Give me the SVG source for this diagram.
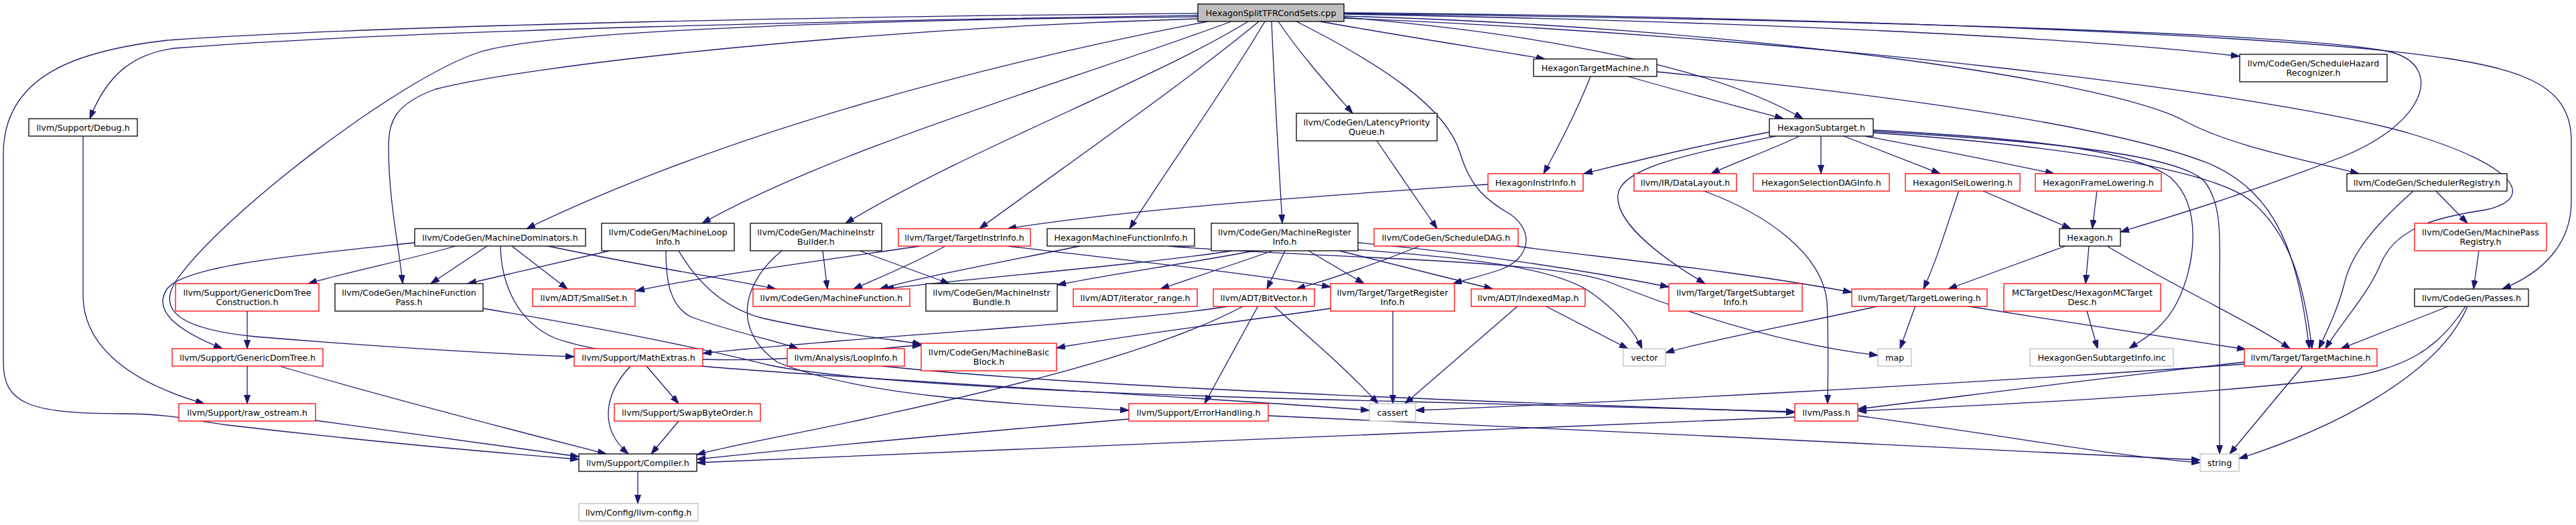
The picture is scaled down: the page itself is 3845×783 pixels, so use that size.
<svg xmlns="http://www.w3.org/2000/svg" width="3845" height="783" viewBox="0 0 3845 783">
<style>
.e{fill:none;stroke:#191970;stroke-width:1.3;marker-end:url(#a)}
.nb rect{fill:#fff;stroke:#000;stroke-width:1.3}
.nr rect{fill:#fff;stroke:#ff0000;stroke-width:1.3}
.ng rect{fill:#fff;stroke:#bfbfbf;stroke-width:1.3}
.nroot rect{fill:#bfbfbf;stroke:#000;stroke-width:1.3}
text{font-family:"DejaVu Sans",sans-serif;font-size:12.7px;text-anchor:middle;fill:#000}
</style>
<defs>
<marker id="a" markerUnits="userSpaceOnUse" markerWidth="14" markerHeight="10" refX="13" refY="4.5" orient="auto" viewBox="0 0 14 10"><path d="M0,0 L13,4.5 L0,9 z" fill="#191970" stroke="#191970" stroke-width="1"/></marker>
</defs>
<rect width="3845" height="783" fill="#fff"/>
<g id="connectors">
<path class="e" d="M1788,23 C1300,30 600,45 260,72 C200,80 160,110 134,177"/>
<path class="e" d="M1788,20 C1300,24 600,36 250,60 C120,75 5,110 5,230 L5,540 C5,600 40,617 180,617 C260,617 290,628 340,634 C520,655 700,672 864,685"/>
<path class="e" d="M1803,32 C1500,90 1100,190 786,341"/>
<path class="e" d="M1838,32 C1600,120 1250,220 1048,333"/>
<path class="e" d="M1863,32 C1720,120 1450,220 1262,333"/>
<path class="e" d="M1879,32 C1760,130 1600,240 1462,341"/>
<path class="e" d="M1888,32 C1830,130 1750,240 1686,341"/>
<path class="e" d="M1898,32 C1902,130 1908,230 1914,333"/>
<path class="e" d="M1908,32 C1940,80 1985,130 2019,169"/>
<path class="e" d="M1935,32 C2060,95 2160,160 2180,230 C2195,280 2220,300 2255,320 C2290,345 2285,385 2240,402 C2210,412 2185,418 2169,423"/>
<path class="e" d="M1970,32 C2100,55 2230,75 2306,88"/>
<path class="e" d="M2006,26 C2300,50 2560,100 2691,177"/>
<path class="e" d="M2006,21 C2600,32 3100,55 3343,84"/>
<path class="e" d="M2006,24 C2600,40 3150,120 3260,180 C3330,218 3440,238 3521,259"/>
<path class="e" d="M2006,20 C2800,30 3450,50 3570,78 C3650,100 3620,190 3480,240 C3350,290 3250,320 3165,346"/>
<path class="e" d="M2006,19 C2800,26 3450,55 3652,87 C3770,105 3838,130 3838,210 L3838,300 C3838,360 3800,405 3735,431"/>
<path class="e" d="M2006,27 C2700,55 3400,140 3600,200 C3750,245 3790,295 3710,313 C3650,322 3580,335 3555,390 C3535,440 3495,480 3471,520"/>
<path class="e" d="M1788,28 C1300,42 800,95 650,133 C590,155 580,180 580,220 C580,300 596,370 601,423"/>
<path class="e" d="M1788,25 C1200,30 800,50 715,78 C600,115 330,320 262,420 C232,468 280,492 380,502 C600,520 750,528 857,532"/>
<path class="e" d="M2374,114 C2352,170 2325,220 2304,259"/>
<path class="e" d="M2430,114 C2520,140 2600,160 2662,177"/>
<path class="e" d="M2473,107 C2800,140 3150,185 3300,245 C3400,290 3430,380 3447,520"/>
<path class="e" d="M2641,197 C2520,220 2420,245 2364,259"/>
<path class="e" d="M2686,203 C2640,225 2590,242 2554,259"/>
<path class="e" d="M2651,203 C2520,230 2420,250 2415,290 C2410,335 2490,390 2545,423"/>
<path class="e" d="M2718,203 L2718,259"/>
<path class="e" d="M2752,203 L2896,259"/>
<path class="e" d="M2784,203 C2900,225 3000,245 3066,259"/>
<path class="e" d="M2796,194 C3000,205 3180,220 3240,265 C3290,310 3275,400 3250,450 C3230,490 3200,505 3178,520"/>
<path class="e" d="M2796,196 C3050,210 3250,230 3290,270 C3318,305 3313,360 3313,420 L3313,677"/>
<path class="e" d="M2796,198 C3050,215 3300,250 3360,300 C3420,350 3440,430 3451,520"/>
<path class="e" d="M2221,275 C2000,290 1700,310 1504,341"/>
<path class="e" d="M2541,284 C2640,320 2720,380 2727,450 C2730,520 2728,570 2728,602"/>
<path class="e" d="M2958,284 L3091,341"/>
<path class="e" d="M2924,284 C2905,340 2890,390 2871,431"/>
<path class="e" d="M3130,284 L3123,341"/>
<path class="e" d="M3083,367 L2908,431"/>
<path class="e" d="M3118,367 L3113,423"/>
<path class="e" d="M3145,367 C3250,430 3360,480 3418,520"/>
<path class="e" d="M2055,210 L2145,341"/>
<path class="e" d="M2119,367 C2050,395 1990,415 1935,431"/>
<path class="e" d="M2262,367 C2400,385 2600,405 2764,436"/>
<path class="e" d="M619,362 C450,380 280,395 250,430 C225,465 270,495 332,520"/>
<path class="e" d="M680,367 C600,390 520,405 460,423"/>
<path class="e" d="M727,367 L643,423"/>
<path class="e" d="M747,367 C748,420 770,480 830,505 C950,545 1150,540 1250,528 C1300,522 1340,516 1375,515"/>
<path class="e" d="M764,367 L847,431"/>
<path class="e" d="M818,367 C950,395 1080,415 1158,431"/>
<path class="e" d="M910,374 L698,423"/>
<path class="e" d="M994,374 C994,420 1000,455 1030,472 C1090,495 1150,505 1191,520"/>
<path class="e" d="M1013,374 C1040,420 1080,460 1140,475 C1230,495 1320,505 1375,513"/>
<path class="e" d="M1228,374 L1235,431"/>
<path class="e" d="M1283,374 L1417,423"/>
<path class="e" d="M1167,374 C1110,420 1090,490 1160,540 C1280,590 1500,602 1685,612"/>
<path class="e" d="M1373,367 C1250,385 1050,412 949,434"/>
<path class="e" d="M1411,367 C1360,395 1310,415 1274,431"/>
<path class="e" d="M1504,367 C1650,385 1850,405 1986,428"/>
<path class="e" d="M1612,367 C1500,390 1380,412 1313,431"/>
<path class="e" d="M1744,367 C1950,385 2300,385 2400,420 C2500,460 2650,512 2803,530"/>
<path class="e" d="M1840,374 C1700,395 1450,415 1321,431"/>
<path class="e" d="M1873,374 C1760,395 1650,410 1578,425"/>
<path class="e" d="M1900,374 L1732,431"/>
<path class="e" d="M1918,374 L1891,431"/>
<path class="e" d="M1953,374 L2036,423"/>
<path class="e" d="M1999,374 L2228,431"/>
<path class="e" d="M2020,372 C2200,385 2330,400 2380,440 C2420,470 2440,495 2451,520"/>
<path class="e" d="M2027,362 C2200,378 2350,400 2491,428"/>
<path class="e" d="M1986,460 C1850,480 1680,500 1577,519"/>
<path class="e" d="M2079,464 L2079,602"/>
<path class="e" d="M1838,456 C1700,480 1300,500 1049,527"/>
<path class="e" d="M1857,456 C1700,540 1400,600 1290,625 C1200,645 1100,662 1040,678"/>
<path class="e" d="M1878,456 L1798,602"/>
<path class="e" d="M1901,456 C1950,500 2010,550 2057,602"/>
<path class="e" d="M2266,456 L2097,602"/>
<path class="e" d="M2306,456 L2430,520"/>
<path class="e" d="M2859,456 L2836,520"/>
<path class="e" d="M2806,456 C2700,480 2560,505 2486,526"/>
<path class="e" d="M2933,456 C3080,480 3250,505 3352,521"/>
<path class="e" d="M3115,464 L3131,520"/>
<path class="e" d="M3657,456 L3494,520"/>
<path class="e" d="M3680,457 C3640,520 3590,550 3500,563 C3300,588 3000,603 2773,613"/>
<path class="e" d="M3683,457 C3640,560 3480,640 3342,684"/>
<path class="e" d="M3700,374 L3692,431"/>
<path class="e" d="M3636,285 L3683,333"/>
<path class="e" d="M3602,285 C3540,340 3510,380 3500,420 C3490,460 3475,490 3461,520"/>
<path class="e" d="M369,464 L369,520"/>
<path class="e" d="M369,546 L369,602"/>
<path class="e" d="M417,546 C600,600 800,650 905,677"/>
<path class="e" d="M471,627 C600,645 750,665 864,681"/>
<path class="e" d="M124,203 L124,440 C124,520 200,572 305,602"/>
<path class="e" d="M941,546 C900,590 895,640 938,677"/>
<path class="e" d="M965,546 L1013,602"/>
<path class="e" d="M1046,546 C1300,568 1800,592 2044,612"/>
<path class="e" d="M1013,628 L972,677"/>
<path class="e" d="M1317,546 C1600,576 2200,598 2400,605 C2550,610 2630,614 2679,615"/>
<path class="e" d="M721,460 C900,490 1050,520 1150,545 C1300,575 1700,590 2100,599 C2400,606 2600,612 2679,614"/>
<path class="e" d="M1685,625 C1450,645 1200,668 1040,685"/>
<path class="e" d="M1893,620 C2300,635 2900,670 3284,686"/>
<path class="e" d="M2679,622 C2300,636 1500,672 1040,690"/>
<path class="e" d="M2773,620 C3000,650 3150,680 3284,690"/>
<path class="e" d="M3437,546 L3328,677"/>
<path class="e" d="M3350,540 C3100,568 2900,595 2773,610"/>
<path class="e" d="M3350,543 C2900,575 2400,600 2113,612"/>
<path class="e" d="M952,703 L952,751"/>
</g>
<g id="node-root" class="nroot"><rect x="1788" y="6" width="218" height="26"/><text x="1897" y="23.6">HexagonSplitTFRCondSets.cpp</text></g>
<g id="node-htm" class="nb"><rect x="2289" y="88" width="184" height="26"/><text x="2381" y="105.6">HexagonTargetMachine.h</text></g>
<g id="node-shr" class="nb"><rect x="3343" y="81" width="220" height="41"/><text x="3453" y="98.9">llvm/CodeGen/ScheduleHazard</text><text x="3453" y="113.3">Recognizer.h</text></g>
<g id="node-debug" class="nb"><rect x="43" y="177" width="162" height="26"/><text x="124" y="194.6">llvm/Support/Debug.h</text></g>
<g id="node-hs" class="nb"><rect x="2641" y="177" width="155" height="26"/><text x="2718.5" y="194.6">HexagonSubtarget.h</text></g>
<g id="node-lpq" class="nb"><rect x="1935" y="169" width="210" height="41"/><text x="2040" y="186.9">llvm/CodeGen/LatencyPriority</text><text x="2040" y="201.3">Queue.h</text></g>
<g id="node-hii" class="nr"><rect x="2221" y="259" width="142" height="26"/><text x="2292" y="276.6">HexagonInstrInfo.h</text></g>
<g id="node-dl" class="nr"><rect x="2439" y="259" width="153" height="26"/><text x="2515.5" y="276.6">llvm/IR/DataLayout.h</text></g>
<g id="node-hsdag" class="nr"><rect x="2617" y="259" width="203" height="26"/><text x="2718.5" y="276.6">HexagonSelectionDAGInfo.h</text></g>
<g id="node-hisel" class="nr"><rect x="2844" y="259" width="171" height="26"/><text x="2929.5" y="276.6">HexagonISelLowering.h</text></g>
<g id="node-hfl" class="nr"><rect x="3038" y="259" width="188" height="26"/><text x="3132" y="276.6">HexagonFrameLowering.h</text></g>
<g id="node-sr" class="nb"><rect x="3503" y="259" width="239" height="26"/><text x="3622.5" y="276.6">llvm/CodeGen/SchedulerRegistry.h</text></g>
<g id="node-md" class="nb"><rect x="619" y="341" width="255" height="26"/><text x="746.5" y="358.6">llvm/CodeGen/MachineDominators.h</text></g>
<g id="node-mli" class="nb"><rect x="898" y="333" width="198" height="41"/><text x="997" y="350.9">llvm/CodeGen/MachineLoop</text><text x="997" y="365.3">Info.h</text></g>
<g id="node-mib" class="nb"><rect x="1120" y="333" width="196" height="41"/><text x="1218" y="350.9">llvm/CodeGen/MachineInstr</text><text x="1218" y="365.3">Builder.h</text></g>
<g id="node-tii" class="nr"><rect x="1341" y="341" width="197" height="26"/><text x="1439.5" y="358.6">llvm/Target/TargetInstrInfo.h</text></g>
<g id="node-hmfi" class="nb"><rect x="1563" y="341" width="220" height="26"/><text x="1673" y="358.6">HexagonMachineFunctionInfo.h</text></g>
<g id="node-mri" class="nb"><rect x="1808" y="333" width="219" height="41"/><text x="1917.5" y="350.9">llvm/CodeGen/MachineRegister</text><text x="1917.5" y="365.3">Info.h</text></g>
<g id="node-sdag" class="nr"><rect x="2051" y="341" width="215" height="26"/><text x="2158.5" y="358.6">llvm/CodeGen/ScheduleDAG.h</text></g>
<g id="node-hexagon" class="nb"><rect x="3074" y="341" width="91" height="26"/><text x="3119.5" y="358.6">Hexagon.h</text></g>
<g id="node-mpr" class="nr"><rect x="3604" y="333" width="197" height="41"/><text x="3702.5" y="350.9">llvm/CodeGen/MachinePass</text><text x="3702.5" y="365.3">Registry.h</text></g>
<g id="node-gdtc" class="nr"><rect x="262" y="423" width="214" height="41"/><text x="369" y="440.9">llvm/Support/GenericDomTree</text><text x="369" y="455.3">Construction.h</text></g>
<g id="node-mfp" class="nb"><rect x="500" y="423" width="221" height="41"/><text x="610.5" y="440.9">llvm/CodeGen/MachineFunction</text><text x="610.5" y="455.3">Pass.h</text></g>
<g id="node-smallset" class="nr"><rect x="795" y="431" width="153" height="26"/><text x="871.5" y="448.6">llvm/ADT/SmallSet.h</text></g>
<g id="node-mf" class="nr"><rect x="1124" y="431" width="234" height="26"/><text x="1241" y="448.6">llvm/CodeGen/MachineFunction.h</text></g>
<g id="node-mibundle" class="nb"><rect x="1382" y="423" width="196" height="41"/><text x="1480" y="440.9">llvm/CodeGen/MachineInstr</text><text x="1480" y="455.3">Bundle.h</text></g>
<g id="node-iter" class="nr"><rect x="1602" y="431" width="185" height="26"/><text x="1694.5" y="448.6">llvm/ADT/iterator_range.h</text></g>
<g id="node-bitvector" class="nr"><rect x="1811" y="431" width="151" height="26"/><text x="1886.5" y="448.6">llvm/ADT/BitVector.h</text></g>
<g id="node-tri" class="nr"><rect x="1986" y="423" width="185" height="41"/><text x="2078.5" y="440.9">llvm/Target/TargetRegister</text><text x="2078.5" y="455.3">Info.h</text></g>
<g id="node-indexedmap" class="nr"><rect x="2196" y="431" width="170" height="26"/><text x="2281" y="448.6">llvm/ADT/IndexedMap.h</text></g>
<g id="node-tsi" class="nr"><rect x="2491" y="423" width="199" height="41"/><text x="2590.5" y="440.9">llvm/Target/TargetSubtarget</text><text x="2590.5" y="455.3">Info.h</text></g>
<g id="node-tl" class="nr"><rect x="2764" y="431" width="202" height="26"/><text x="2865" y="448.6">llvm/Target/TargetLowering.h</text></g>
<g id="node-mctd" class="nr"><rect x="2991" y="423" width="234" height="41"/><text x="3108" y="440.9">MCTargetDesc/HexagonMCTarget</text><text x="3108" y="455.3">Desc.h</text></g>
<g id="node-passes" class="nb"><rect x="3604" y="431" width="170" height="26"/><text x="3689" y="448.6">llvm/CodeGen/Passes.h</text></g>
<g id="node-gdt" class="nr"><rect x="257" y="520" width="225" height="26"/><text x="369.5" y="537.6">llvm/Support/GenericDomTree.h</text></g>
<g id="node-mathextras" class="nr"><rect x="857" y="520" width="192" height="26"/><text x="953" y="537.6">llvm/Support/MathExtras.h</text></g>
<g id="node-loopinfo" class="nr"><rect x="1175" y="520" width="175" height="26"/><text x="1262.5" y="537.6">llvm/Analysis/LoopInfo.h</text></g>
<g id="node-mbb" class="nr"><rect x="1375" y="512" width="202" height="41"/><text x="1476" y="529.9">llvm/CodeGen/MachineBasic</text><text x="1476" y="544.3">Block.h</text></g>
<g id="node-vector" class="ng"><rect x="2423" y="520" width="63" height="26"/><text x="2454.5" y="537.6">vector</text></g>
<g id="node-map" class="ng"><rect x="2803" y="520" width="50" height="26"/><text x="2828" y="537.6">map</text></g>
<g id="node-hgsi" class="ng"><rect x="3030" y="520" width="214" height="26"/><text x="3137" y="537.6">HexagonGenSubtargetInfo.inc</text></g>
<g id="node-tm" class="nr"><rect x="3350" y="520" width="198" height="26"/><text x="3449" y="537.6">llvm/Target/TargetMachine.h</text></g>
<g id="node-rawostream" class="nr"><rect x="267" y="602" width="204" height="26"/><text x="369" y="619.6">llvm/Support/raw_ostream.h</text></g>
<g id="node-swap" class="nr"><rect x="917" y="602" width="218" height="26"/><text x="1026" y="619.6">llvm/Support/SwapByteOrder.h</text></g>
<g id="node-errh" class="nr"><rect x="1685" y="602" width="208" height="26"/><text x="1789" y="619.6">llvm/Support/ErrorHandling.h</text></g>
<g id="node-cassert" class="ng"><rect x="2044" y="602" width="69" height="26"/><text x="2078.5" y="619.6">cassert</text></g>
<g id="node-pass" class="nr"><rect x="2679" y="602" width="94" height="26"/><text x="2726" y="619.6">llvm/Pass.h</text></g>
<g id="node-compiler" class="nb"><rect x="864" y="677" width="176" height="26"/><text x="952" y="694.6">llvm/Support/Compiler.h</text></g>
<g id="node-string" class="ng"><rect x="3284" y="677" width="58" height="26"/><text x="3313" y="694.6">string</text></g>
<g id="node-llvmconfig" class="ng"><rect x="864" y="751" width="178" height="26"/><text x="953" y="768.6">llvm/Config/llvm-config.h</text></g>
</svg>
